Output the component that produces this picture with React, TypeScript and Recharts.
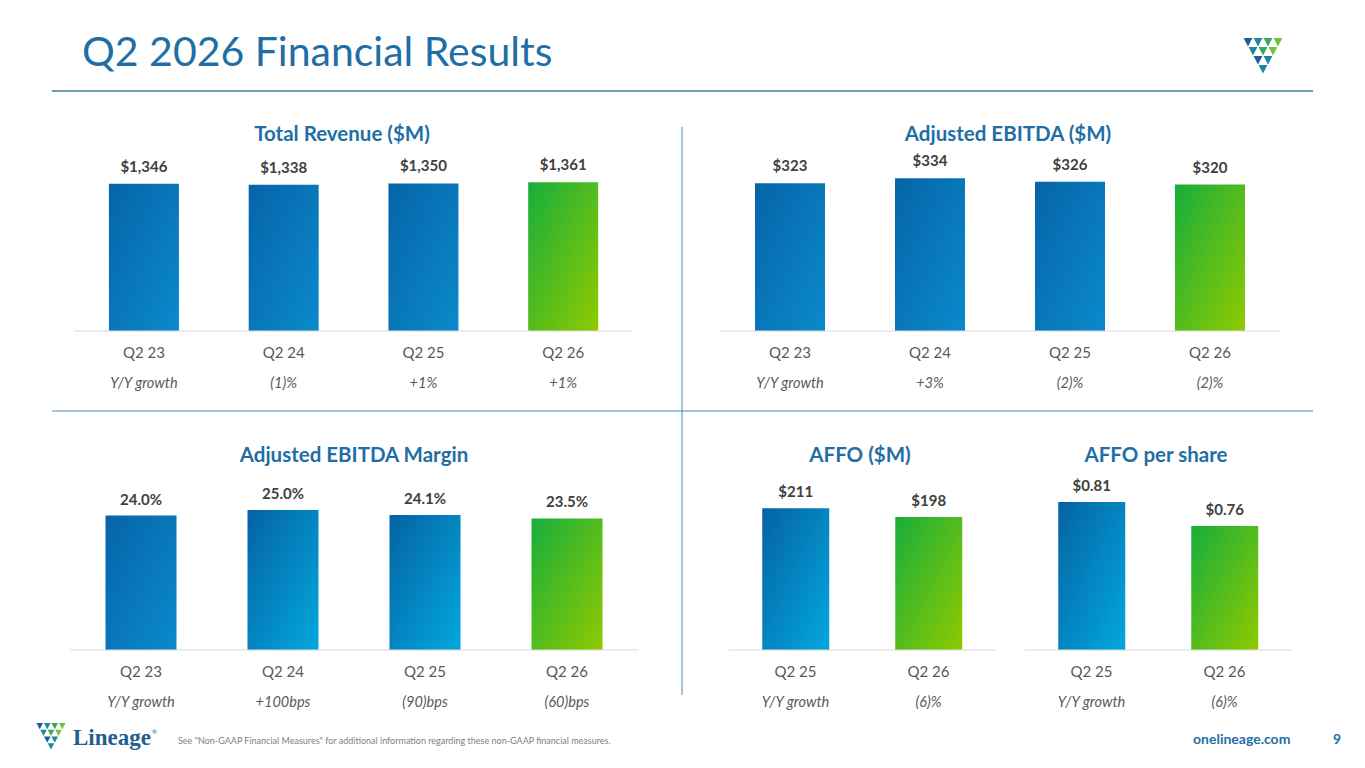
import React from "react";
import { BarChart, Bar, XAxis, YAxis, LabelList, Cell } from "recharts";

const FONT = "Lato, 'Open Sans', sans-serif";
const BLUE_TEXT = "#1f6ea6";

// Total revenue ($M)
const revenueCats = ["Q2 23", "Q2 24", "Q2 25", "Q2 26"];
const revenueValues = [1346, 1338, 1350, 1361];
const revenueGrowth = ["Y/Y growth", "(1)%", "+1%", "+1%"];

// Adjusted EBITDA ($M)
const ebitdaCats = ["Q2 23", "Q2 24", "Q2 25", "Q2 26"];
const ebitdaValues = [323, 334, 326, 320];
const ebitdaGrowth = ["Y/Y growth", "+3%", "(2)%", "(2)%"];

// Adjusted EBITDA margin (%)
const marginCats = ["Q2 23", "Q2 24", "Q2 25", "Q2 26"];
const marginValues = [24.0, 25.0, 24.1, 23.5];
const marginGrowth = ["Y/Y growth", "+100bps", "(90)bps", "(60)bps"];

// AFFO ($M)
const affoCats = ["Q2 25", "Q2 26"];
const affoValues = [211, 198];
const affoGrowth = ["Y/Y growth", "(6)%"];

// AFFO per share ($)
const affoShareCats = ["Q2 25", "Q2 26"];
const affoShareValues = [0.81, 0.76];
const affoShareGrowth = ["Y/Y growth", "(6)%"];

const GrowthTick = (props: any) => {
  const { x, y, payload, index, growth } = props;
  return (
    <g>
      <text x={x} y={y + 19} textAnchor="middle" fill="#595959" fontSize={15} fontFamily={FONT}>
        {payload.value}
      </text>
      <text
        x={x}
        y={y + 49}
        textAnchor="middle"
        fill="#595959"
        fontSize={14.5}
        fontStyle="italic"
        fontFamily={FONT}
      >
        {growth[index]}
      </text>
    </g>
  );
};

interface MiniBarsProps {
  id: string;
  left: number;
  top: number;
  width: number;
  marginTop: number;
  plotHeight: number;
  cats: string[];
  values: number[];
  growth: string[];
  domain: [number, number];
  labelOffset: number;
  bright?: number[];
  fmt: (v: number) => string;
}

function MiniBars({
  id,
  left,
  top,
  width,
  marginTop,
  plotHeight,
  cats,
  values,
  growth,
  domain,
  labelOffset,
  bright = [],
  fmt,
}: MiniBarsProps) {
  const data = cats.map((c, i) => ({ cat: c, value: values[i] }));
  const axisHeight = 70;
  const fillFor = (i: number) => {
    if (i === data.length - 1) return `url(#${id}-green)`;
    return bright.includes(i) ? `url(#${id}-bright)` : `url(#${id}-blue)`;
  };
  return (
    <div style={{ position: "absolute", left, top }}>
      <BarChart
        width={width}
        height={marginTop + plotHeight + axisHeight}
        data={data}
        margin={{ top: marginTop, right: 0, bottom: 0, left: 0 }}
        barCategoryGap="25%"
      >
        <defs>
          <linearGradient id={`${id}-blue`} x1="0" y1="0" x2="1" y2="1">
            <stop offset="0%" stopColor="#0664a8" />
            <stop offset="100%" stopColor="#0a8acc" />
          </linearGradient>
          <linearGradient id={`${id}-bright`} x1="0" y1="0" x2="1" y2="1">
            <stop offset="0%" stopColor="#0562a4" />
            <stop offset="100%" stopColor="#02a8dd" />
          </linearGradient>
          <linearGradient id={`${id}-green`} x1="0" y1="0" x2="1" y2="1">
            <stop offset="0%" stopColor="#17ae3b" />
            <stop offset="100%" stopColor="#8fca00" />
          </linearGradient>
        </defs>
        <XAxis
          dataKey="cat"
          height={axisHeight}
          interval={0}
          axisLine={{ stroke: "#d9d9d9", strokeWidth: 1 }}
          tickLine={false}
          tick={(p: any) => <GrowthTick {...p} growth={growth} />}
        />
        <YAxis hide domain={domain} allowDataOverflow />
        <Bar dataKey="value" isAnimationActive={false}>
          {data.map((d, i) => (
            <Cell key={d.cat} fill={fillFor(i)} />
          ))}
          <LabelList
            dataKey="value"
            position="top"
            offset={labelOffset}
            formatter={(v: any) => fmt(Number(v))}
            fill="#404040"
            fontSize={15}
            fontWeight="bold"
            fontFamily={FONT}
          />
        </Bar>
      </BarChart>
    </div>
  );
}

const Shield = ({ x, y, s }: { x: number; y: number; s: number }) => {
  const cols = ["#1b5c9d", "#1c879f", "#3aa85c", "#74c043"];
  const tris: JSX.Element[] = [];
  const w = 10;
  const h = 9;
  for (let row = 0; row < 4; row++) {
    const count = 4 - row;
    for (let k = 0; k < count; k++) {
      const x0 = row * (w / 2) + k * w;
      const y0 = row * h;
      const ci = Math.min(3, Math.round(((x0 + w / 2) / 40) * 3.4));
      tris.push(
        <polygon
          key={`${row}-${k}`}
          points={`${x0 + 0.6},${y0} ${x0 + w - 0.6},${y0} ${x0 + w / 2},${y0 + h - 0.6}`}
          fill={cols[Math.max(0, ci - (row > 1 ? 1 : 0))]}
        />
      );
    }
  }
  return <g transform={`translate(${x},${y}) scale(${s})`}>{tris}</g>;
};

export default function App() {
  return (
    <div
      style={{
        position: "absolute",
        left: 0,
        top: 0,
        width: 1365,
        height: 768,
        background: "#ffffff",
        overflow: "hidden",
        fontFamily: FONT,
      }}
    >
      <svg width={1365} height={768} style={{ position: "absolute", left: 0, top: 0 }}>
        <text x={82} y={66} fontSize={41} fill={BLUE_TEXT} fontFamily={FONT}>
          Q2 2026 Financial Results
        </text>
        <line x1={52} y1={91} x2={1313} y2={91} stroke="#6f9bb1" strokeWidth={2} />
        <line x1={52} y1={411} x2={1313} y2={411} stroke="#4a89b9" strokeWidth={1} />
        <line x1={682} y1={127} x2={682} y2={695} stroke="#4a89b9" strokeWidth={1} />

        <g fontFamily={FONT} fontWeight="bold" fontSize={20.5} fill={BLUE_TEXT} textAnchor="middle">
          <text x={342} y={141}>Total Revenue ($M)</text>
          <text x={1008} y={141}>Adjusted EBITDA ($M)</text>
          <text x={354} y={462}>Adjusted EBITDA Margin</text>
          <text x={860} y={462}>AFFO ($M)</text>
          <text x={1156} y={462}>AFFO per share</text>
        </g>

        <Shield x={1243} y={38} s={1} />
        <Shield x={36} y={723} s={0.75} />
        <text x={73} y={745} fontSize={23} fontWeight="bold" fill="#1d5e93" fontFamily="'Liberation Serif', serif">
          Lineage
        </text>
        <text x={152} y={734} fontSize={6} fill="#1d5e93" fontFamily={FONT}>
          ®
        </text>
        <text x={178} y={744} fontSize={9} fill="#7f7f7f" fontFamily={FONT}>
          See "Non-GAAP Financial Measures" for additional information regarding these non-GAAP financial measures.
        </text>
        <text x={1193} y={744} fontSize={14} fontWeight="bold" fill={BLUE_TEXT} fontFamily={FONT}>
          onelineage.com
        </text>
        <text x={1333} y={744} fontSize={14} fontWeight="bold" fill={BLUE_TEXT} fontFamily={FONT}>
          9
        </text>
      </svg>

      <MiniBars
        id="rev"
        left={74}
        top={140}
        width={559}
        marginTop={27}
        plotHeight={164}
        cats={revenueCats}
        values={revenueValues}
        growth={revenueGrowth}
        domain={[0, 1500]}
        labelOffset={12}
        fmt={(v) => `$${v.toLocaleString("en-US")}`}
      />
      <MiniBars
        id="ebitda"
        left={720}
        top={140}
        width={560}
        marginTop={8}
        plotHeight={183}
        cats={ebitdaCats}
        values={ebitdaValues}
        growth={ebitdaGrowth}
        domain={[0, 400]}
        labelOffset={12}
        fmt={(v) => `$${v}`}
      />
      <MiniBars
        id="margin"
        left={70}
        top={470}
        width={568}
        marginTop={12}
        plotHeight={168}
        cats={marginCats}
        values={marginValues}
        growth={marginGrowth}
        domain={[0, 30]}
        labelOffset={11}
        bright={[1, 2]}
        fmt={(v) => `${v.toFixed(1)}%`}
      />
      <MiniBars
        id="affo"
        left={729}
        top={470}
        width={266}
        marginTop={12}
        plotHeight={168}
        cats={affoCats}
        values={affoValues}
        growth={affoGrowth}
        domain={[0, 250]}
        labelOffset={11}
        bright={[0]}
        fmt={(v) => `$${v}`}
      />
      <MiniBars
        id="affops"
        left={1025}
        top={470}
        width={266}
        marginTop={13}
        plotHeight={167}
        cats={affoShareCats}
        values={affoShareValues}
        growth={affoShareGrowth}
        domain={[0.5, 0.85]}
        labelOffset={11}
        bright={[0]}
        fmt={(v) => `$${v.toFixed(2)}`}
      />
    </div>
  );
}
